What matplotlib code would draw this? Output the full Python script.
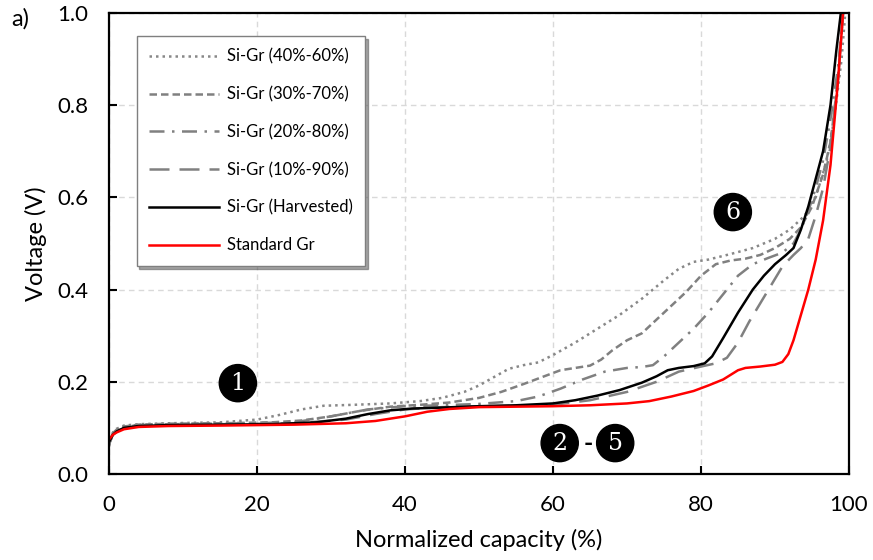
import numpy as np
import matplotlib
matplotlib.use("Agg")
import matplotlib.pyplot as plt
from matplotlib.ticker import FormatStrFormatter

plt.rcParams['font.family'] = ['Lato', 'DejaVu Sans']

# Standard Gr (red)
x_std = [0, 0.5, 1, 2, 4, 8, 15, 25, 32, 36, 40, 43, 46, 50, 55, 60, 65, 70, 73, 76, 79, 81, 83, 85, 86, 88,
         90, 91, 91.8, 92.5, 93.5, 94.5, 95.5, 96.5, 97.5, 98.5, 99.2]
y_std = [0.075, 0.085, 0.09, 0.097, 0.102, 0.104, 0.105, 0.107, 0.11, 0.115, 0.125, 0.135, 0.141, 0.145, 0.146,
         0.147, 0.149, 0.153, 0.158, 0.168, 0.18, 0.192, 0.205, 0.225, 0.23, 0.233, 0.237, 0.243, 0.26, 0.29,
         0.345, 0.40, 0.465, 0.55, 0.67, 0.85, 1.0]

# Si-Gr harvested (black)
x_harv = [0, 0.5, 1, 2, 4, 8, 15, 22, 28, 32, 35, 38, 41, 45, 50, 55, 60, 63, 66, 69, 72, 74, 75.5, 77, 79, 80.5,
          81.5, 83, 85, 87, 88.5, 90, 91.5, 92.5, 93.5, 94.5, 95.5, 96.5, 97.5, 98.3, 98.9]
y_harv = [0.07, 0.085, 0.092, 0.1, 0.104, 0.106, 0.107, 0.108, 0.112, 0.12, 0.13, 0.138, 0.142, 0.144, 0.147,
          0.149, 0.153, 0.16, 0.17, 0.182, 0.198, 0.212, 0.225, 0.23, 0.234, 0.24, 0.255, 0.295, 0.35, 0.40,
          0.43, 0.455, 0.475, 0.49, 0.53, 0.58, 0.64, 0.70, 0.80, 0.92, 1.0]

# Si-Gr (10%-90%)
x_1090 = [0, 0.5, 1, 2, 4, 8, 15, 25, 32, 36, 40, 45, 50, 55, 60, 65, 70, 74, 77, 80, 82, 83.5, 85, 86.5, 88,
          89.5, 91, 92.5, 93.5, 94.5, 95.5, 96.5, 97.5, 98.5, 99.2]
y_1090 = [0.065, 0.085, 0.093, 0.1, 0.104, 0.106, 0.108, 0.11, 0.118, 0.13, 0.14, 0.145, 0.147, 0.148, 0.15,
          0.16, 0.178, 0.2, 0.222, 0.233, 0.24, 0.252, 0.285, 0.33, 0.37, 0.41, 0.45, 0.475, 0.49, 0.51, 0.56,
          0.62, 0.71, 0.86, 1.0]

# Si-Gr (20%-80%)
x_2080 = [0, 0.5, 1, 2, 4, 8, 15, 25, 30, 35, 40, 45, 50, 55, 58, 61, 64, 67, 70, 72, 73.5, 75, 77, 79, 81, 83,
          85, 87, 89, 91, 92.5, 93.5, 94.5, 95.5, 96.5, 97.5, 98.5, 99.2]
y_2080 = [0.065, 0.088, 0.095, 0.102, 0.106, 0.108, 0.109, 0.112, 0.125, 0.14, 0.147, 0.149, 0.152, 0.158,
          0.168, 0.185, 0.205, 0.222, 0.23, 0.232, 0.236, 0.255, 0.285, 0.315, 0.35, 0.39, 0.43, 0.455, 0.468,
          0.48, 0.5, 0.53, 0.57, 0.62, 0.68, 0.77, 0.88, 1.0]

# Si-Gr (30%-70%)
x_3070 = [0, 0.5, 1, 2, 4, 8, 15, 22, 26, 30, 34, 38, 42, 46, 50, 53, 56, 59, 61, 63, 65, 66.5, 68, 70, 72, 74,
          76, 78, 80, 82, 84, 86, 88, 90, 92, 93.5, 95, 96.5, 97.5, 98.5, 99.2]
y_3070 = [0.065, 0.088, 0.096, 0.103, 0.107, 0.109, 0.11, 0.112, 0.116, 0.125, 0.137, 0.146, 0.15, 0.155,
          0.165, 0.178, 0.195, 0.213, 0.225, 0.23, 0.235, 0.248, 0.268, 0.29, 0.305, 0.335, 0.365, 0.395, 0.43,
          0.455, 0.463, 0.467, 0.475, 0.49, 0.51, 0.535, 0.58, 0.65, 0.72, 0.85, 1.0]

# Si-Gr (40%-60%)
x_4060 = [0, 0.5, 1, 2, 4, 8, 15, 20, 23, 26, 29, 33, 38, 42, 45, 48, 50, 52, 54, 56, 58, 60, 63, 66, 69, 72,
          75, 77, 79, 81, 84, 87, 90, 92, 94, 95.5, 97, 98, 99, 99.5]
y_4060 = [0.06, 0.09, 0.098, 0.105, 0.108, 0.11, 0.112, 0.118, 0.128, 0.14, 0.148, 0.15, 0.153, 0.158, 0.165,
          0.178, 0.192, 0.21, 0.228, 0.236, 0.242, 0.258, 0.285, 0.315, 0.345, 0.38, 0.42, 0.445, 0.46, 0.465,
          0.477, 0.49, 0.51, 0.53, 0.56, 0.6, 0.68, 0.77, 0.9, 1.0]

fig = plt.figure(figsize=(8.73, 5.6), dpi=100)
ax = fig.add_axes([0.125, 0.1536, 0.8475, 0.8234])

gray = '#808080'
ax.plot(x_4060, y_4060, color='#888888', lw=1.8, linestyle=(0, (1, 1.6)), label='Si-Gr (40%-60%)')
ax.plot(x_3070, y_3070, color=gray, lw=1.8, linestyle=(0, (3, 1.6)), label='Si-Gr (30%-70%)')
ax.plot(x_2080, y_2080, color=gray, lw=1.8, linestyle=(0, (6, 3, 1, 3)), label='Si-Gr (20%-80%)')
ax.plot(x_1090, y_1090, color=gray, lw=1.8, linestyle=(0, (8, 4)), label='Si-Gr (10%-90%)')
ax.plot(x_harv, y_harv, color='black', lw=1.8, label='Si-Gr (Harvested)')
ax.plot(x_std, y_std, color='#ff0000', lw=1.8, label='Standard Gr')

ax.set_xlim(0, 100)
ax.set_ylim(0, 1.0)
ax.set_xticks(np.arange(0, 101, 20))
ax.set_yticks(np.arange(0, 1.01, 0.2))
ax.yaxis.set_major_formatter(FormatStrFormatter('%.1f'))
ax.grid(True, color='#d9d9d9', linestyle=(0, (4, 3)), lw=1)
ax.set_axisbelow(True)
ax.tick_params(direction='in', length=6, width=1.5, labelsize=16, pad=15, color='black')
for s in ax.spines.values():
    s.set_color('black')
    s.set_linewidth(1.6)

ax.set_xlabel('Normalized capacity (%)', fontsize=17, labelpad=10)
ax.set_ylabel('Voltage (V)', fontsize=17, labelpad=7)

leg = ax.legend(loc='upper left', bbox_to_anchor=(0.026, 0.968), fontsize=12, handlelength=4.2,
                labelspacing=1.3, borderpad=0.75, handletextpad=0.45, fancybox=False, shadow=True,
                edgecolor='#7f7f7f', framealpha=1)
leg.get_frame().set_linewidth(1.0)

# circled step markers
circ = dict(boxstyle='circle,pad=0.3', fc='black', ec='black')
for lab, xx, yy in [('1', 17.4, 0.197), ('2', 60.9, 0.067), ('5', 68.4, 0.067), ('6', 84.3, 0.568)]:
    ax.text(xx, yy, lab, color='white', fontsize=17, family='DejaVu Serif', ha='center', va='center', bbox=circ)
ax.text(64.7, 0.067, '-', color='black', fontsize=18, fontweight='bold', ha='center', va='center')

fig.text(0.013, 0.966, 'a)', fontsize=17, ha='left', va='center')

fig.savefig('out.png', dpi=100)
